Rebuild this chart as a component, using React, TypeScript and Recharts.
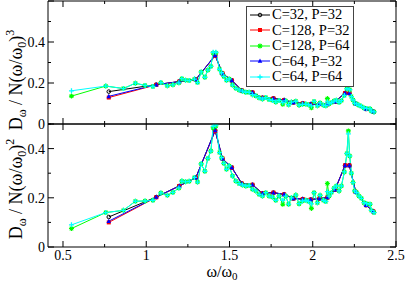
import React from 'react';
import { LineChart, Line, XAxis, YAxis, Legend } from 'recharts';

// frequencies of the coarse runs (P=32) and fine runs (P=64)
const coarseW = [0.775, 1.06, 1.198, 1.298, 1.414, 1.458, 1.514, 1.574, 1.638, 1.698, 1.764, 1.828, 1.884, 1.94, 1.988, 2.04, 2.088, 2.134, 2.194, 2.22, 2.258, 2.32, 2.363];
const fineW = [0.551, 0.757, 0.863, 0.935, 0.993, 1.04, 1.088, 1.127, 1.16, 1.196, 1.214, 1.236, 1.258, 1.29, 1.308, 1.33, 1.352, 1.37, 1.388, 1.402, 1.418, 1.44, 1.452, 1.466, 1.482, 1.498, 1.518, 1.538, 1.558, 1.578, 1.598, 1.618, 1.638, 1.658, 1.678, 1.698, 1.718, 1.738, 1.758, 1.778, 1.798, 1.82, 1.838, 1.855, 1.872, 1.898, 1.918, 1.938, 1.958, 1.975, 1.992, 2.008, 2.028, 2.044, 2.064, 2.078, 2.088, 2.098, 2.112, 2.128, 2.142, 2.158, 2.172, 2.19, 2.205, 2.214, 2.222, 2.232, 2.242, 2.252, 2.264, 2.278, 2.292, 2.308, 2.324, 2.344, 2.352, 2.368];

// top panel: D / N(w/w0)^3
const c32p32Cu = [0.158, 0.192, 0.207, 0.217, 0.335, 0.246, 0.213, 0.164, 0.154, 0.128, 0.125, 0.117, 0.105, 0.101, 0.097, 0.097, 0.096, 0.109, 0.151, 0.150, 0.099, 0.073, 0.061];
const c128p32Cu = [0.129, 0.191, 0.207, 0.217, 0.333, 0.247, 0.213, 0.164, 0.154, 0.128, 0.125, 0.117, 0.105, 0.101, 0.097, 0.097, 0.096, 0.109, 0.151, 0.150, 0.099, 0.073, 0.061];
const c64p32Cu = [0.135, 0.192, 0.207, 0.217, 0.335, 0.246, 0.213, 0.164, 0.154, 0.128, 0.125, 0.117, 0.105, 0.101, 0.097, 0.097, 0.096, 0.109, 0.151, 0.150, 0.099, 0.073, 0.061];
const c128p64Cu = [0.136, 0.185, 0.173, 0.199, 0.188, 0.183, 0.202, 0.186, 0.191, 0.201, 0.221, 0.214, 0.212, 0.219, 0.202, 0.254, 0.228, 0.263, 0.281, 0.346, 0.347, 0.267, 0.250, 0.232, 0.213, 0.220, 0.190, 0.174, 0.166, 0.160, 0.155, 0.155, 0.143, 0.138, 0.128, 0.122, 0.129, 0.119, 0.115, 0.107, 0.115, 0.096, 0.113, 0.094, 0.107, 0.111, 0.092, 0.096, 0.097, 0.094, 0.079, 0.110, 0.089, 0.103, 0.092, 0.089, 0.124, 0.099, 0.105, 0.112, 0.116, 0.106, 0.114, 0.139, 0.172, 0.200, 0.167, 0.134, 0.117, 0.101, 0.098, 0.091, 0.086, 0.078, 0.076, 0.074, 0.063, 0.059];
const c64p64Cu = [0.162, 0.185, 0.173, 0.199, 0.188, 0.183, 0.202, 0.186, 0.191, 0.201, 0.221, 0.214, 0.212, 0.219, 0.202, 0.254, 0.228, 0.263, 0.281, 0.350, 0.350, 0.267, 0.250, 0.232, 0.213, 0.220, 0.190, 0.174, 0.166, 0.160, 0.155, 0.155, 0.143, 0.138, 0.128, 0.122, 0.129, 0.119, 0.115, 0.107, 0.115, 0.104, 0.113, 0.094, 0.107, 0.111, 0.092, 0.096, 0.097, 0.094, 0.088, 0.110, 0.089, 0.103, 0.092, 0.089, 0.108, 0.099, 0.105, 0.112, 0.116, 0.106, 0.114, 0.139, 0.172, 0.192, 0.167, 0.134, 0.117, 0.101, 0.098, 0.091, 0.086, 0.078, 0.076, 0.074, 0.063, 0.059];

// bottom panel: D / N(w/w0)^2
const c32p32Sq = [0.122, 0.203, 0.248, 0.282, 0.474, 0.359, 0.323, 0.258, 0.253, 0.218, 0.221, 0.214, 0.197, 0.195, 0.193, 0.197, 0.201, 0.233, 0.332, 0.332, 0.224, 0.170, 0.145];
const c128p32Sq = [0.100, 0.202, 0.248, 0.282, 0.471, 0.360, 0.323, 0.258, 0.253, 0.218, 0.221, 0.214, 0.197, 0.195, 0.193, 0.197, 0.201, 0.233, 0.332, 0.332, 0.224, 0.170, 0.145];
const c64p32Sq = [0.105, 0.203, 0.248, 0.282, 0.474, 0.359, 0.323, 0.258, 0.253, 0.218, 0.221, 0.214, 0.197, 0.195, 0.193, 0.197, 0.201, 0.233, 0.332, 0.332, 0.224, 0.170, 0.145];
const c128p64Sq = [0.075, 0.140, 0.149, 0.186, 0.187, 0.190, 0.220, 0.210, 0.222, 0.240, 0.268, 0.265, 0.267, 0.283, 0.264, 0.338, 0.308, 0.360, 0.390, 0.485, 0.492, 0.384, 0.363, 0.340, 0.316, 0.330, 0.289, 0.268, 0.258, 0.252, 0.248, 0.250, 0.235, 0.228, 0.214, 0.207, 0.221, 0.207, 0.203, 0.190, 0.207, 0.174, 0.207, 0.174, 0.200, 0.211, 0.176, 0.187, 0.190, 0.185, 0.157, 0.221, 0.180, 0.210, 0.190, 0.185, 0.258, 0.207, 0.221, 0.239, 0.248, 0.228, 0.248, 0.305, 0.380, 0.472, 0.370, 0.300, 0.262, 0.228, 0.221, 0.207, 0.198, 0.180, 0.176, 0.174, 0.149, 0.140];
const c64p64Sq = [0.090, 0.140, 0.149, 0.186, 0.187, 0.190, 0.220, 0.210, 0.222, 0.240, 0.268, 0.265, 0.267, 0.283, 0.264, 0.338, 0.308, 0.360, 0.390, 0.490, 0.496, 0.384, 0.363, 0.340, 0.316, 0.330, 0.289, 0.268, 0.258, 0.252, 0.248, 0.250, 0.235, 0.228, 0.214, 0.207, 0.221, 0.207, 0.203, 0.190, 0.207, 0.190, 0.207, 0.174, 0.200, 0.211, 0.176, 0.187, 0.190, 0.185, 0.175, 0.221, 0.180, 0.210, 0.190, 0.185, 0.225, 0.207, 0.221, 0.239, 0.248, 0.228, 0.248, 0.305, 0.380, 0.460, 0.370, 0.300, 0.262, 0.228, 0.221, 0.207, 0.198, 0.180, 0.176, 0.174, 0.149, 0.140];

const xTicks = [0.5, 0.75, 1, 1.25, 1.5, 1.75, 2, 2.25, 2.5];
const yTicksTop = [0, 0.1, 0.2, 0.3, 0.4, 0.5, 0.6];
const yTicksBot = [0, 0.1, 0.2, 0.3, 0.4, 0.5];

const FONT = "'Liberation Serif', serif";

const pts = (w: number[], v: number[]) => w.map((x, i) => ({ w: x, v: v[i] }));

const series = [
  { name: 'C=32, P=32', color: '#000000', shape: 'circle', w: coarseW, cu: c32p32Cu, sq: c32p32Sq },
  { name: 'C=128, P=32', color: '#ff0000', shape: 'square', w: coarseW, cu: c128p32Cu, sq: c128p32Sq },
  { name: 'C=128, P=64', color: '#00ff00', shape: 'star', w: fineW, cu: c128p64Cu, sq: c128p64Sq },
  { name: 'C=64, P=32', color: '#0000ff', shape: 'triangle', w: coarseW, cu: c64p32Cu, sq: c64p32Sq },
  { name: 'C=64, P=64', color: '#00ffff', shape: 'plus', w: fineW, cu: c64p64Cu, sq: c64p64Sq },
];

function Marker({ shape, cx, cy, color }: { shape: string; cx: number; cy: number; color: string }) {
  if (shape === 'circle') return <circle cx={cx} cy={cy} r={1.8} fill="none" stroke={color} strokeWidth={1} />;
  if (shape === 'square') return <rect x={cx - 2} y={cy - 2} width={4} height={4} fill={color} />;
  if (shape === 'triangle') return <polygon points={`${cx},${cy - 2.5} ${cx + 2.3},${cy + 1.8} ${cx - 2.3},${cy + 1.8}`} fill={color} />;
  if (shape === 'star')
    return (
      <path d={`M${cx - 2.5},${cy}H${cx + 2.5}M${cx},${cy - 2.5}V${cy + 2.5}M${cx - 1.8},${cy - 1.8}L${cx + 1.8},${cy + 1.8}M${cx - 1.8},${cy + 1.8}L${cx + 1.8},${cy - 1.8}`} stroke={color} strokeWidth={1.1} />
    );
  return <path d={`M${cx - 2.5},${cy}H${cx + 2.5}M${cx},${cy - 2.5}V${cy + 2.5}`} stroke={color} strokeWidth={1.3} />;
}

const near = (v: number, step: number) => Math.abs(v / step - Math.round(v / step)) < 1e-6;

const xTick = (dir: number, labels: boolean) => (p: any) => {
  const major = near(p.payload.value, 0.5);
  return (
    <g>
      <line x1={p.x} y1={p.y} x2={p.x} y2={p.y + dir * (major ? 6 : 3)} stroke="#000" />
      {labels && major && (
        <text x={p.x} y={p.y + 13} textAnchor="middle" fontSize={14} fontFamily={FONT} fill="#000">
          {p.payload.value}
        </text>
      )}
    </g>
  );
};

const yTick = (dir: number, labels: boolean, max: number) => (p: any) => {
  const v = p.payload.value;
  const major = near(v, 0.2);
  return (
    <g>
      <line x1={p.x} y1={p.y} x2={p.x + dir * (major ? 6 : 3)} y2={p.y} stroke="#000" />
      {labels && major && v < max && (
        <text x={p.x - 3} y={p.y} dy="0.35em" textAnchor="end" fontSize={14} fontFamily={FONT} fill="#000">
          {v}
        </text>
      )}
    </g>
  );
};

const yTitle = (cy: number, pow: string) => () => (
  <text transform={`translate(22,${cy}) rotate(-90)`} textAnchor="middle" fontSize={18} fontFamily={FONT} fill="#000">
    D<tspan fontSize={12} dy={4}>ω</tspan>
    <tspan dy={-4}> / N(ω/ω</tspan>
    <tspan fontSize={12} dy={4}>0</tspan>
    <tspan dy={-4}>)</tspan>
    <tspan fontSize={12} dy={-8}>{pow}</tspan>
  </text>
);

const xTitle = () => (
  <text x={222} y={277} textAnchor="middle" fontSize={16} fontFamily={FONT} fill="#000">
    ω/ω<tspan fontSize={11} dy={3}>0</tspan>
  </text>
);

// drawn in series order, not the legend's sorted payload order
const renderLegend = () => (
  <div style={{ border: '1px solid #444', background: '#fff', width: 106, padding: '0 0 1px 0', fontFamily: FONT, fontSize: 14.5, color: '#000' }}>
    {series.map((s) => (
      <div key={s.name} style={{ display: 'flex', alignItems: 'center', height: 15.5, lineHeight: '15.5px' }}>
        <svg width={25} height={10} style={{ flex: 'none' }}>
          <line x1={3} y1={5} x2={23} y2={5} stroke={s.color} strokeWidth={1} />
          <Marker shape={s.shape} cx={13} cy={5} color={s.color} />
        </svg>
        <span style={{ whiteSpace: 'nowrap' }}>{s.name}</span>
      </div>
    ))}
  </div>
);

const axisLine = { stroke: '#000', strokeWidth: 1 };

function Panel({ height, margin, yMax, yTicks, pow, titleY, bottomLabels, legend }: any) {
  return (
    <div style={{ position: 'absolute', left: 0, top: 0 }}>
      <LineChart width={407} height={height} margin={margin}>
        <XAxis xAxisId="b" dataKey="w" type="number" domain={[0.41, 2.5]} ticks={xTicks} interval={0} height={1} tickSize={0} tickMargin={0} tickLine={false} axisLine={axisLine} tick={xTick(-1, bottomLabels)} allowDataOverflow label={bottomLabels ? { content: xTitle } : undefined} />
        <XAxis xAxisId="t" orientation="top" dataKey="w" type="number" domain={[0.41, 2.5]} ticks={xTicks} interval={0} height={1} tickSize={0} tickMargin={0} tickLine={false} axisLine={axisLine} tick={xTick(1, false)} allowDataOverflow />
        <YAxis yAxisId="l" type="number" domain={[0, yMax]} ticks={yTicks} interval={0} width={1} tickSize={0} tickMargin={0} tickLine={false} axisLine={axisLine} tick={yTick(1, true, yMax)} allowDataOverflow label={{ content: yTitle(titleY, pow) }} />
        <YAxis yAxisId="r" orientation="right" type="number" domain={[0, yMax]} ticks={yTicks} interval={0} width={1} tickSize={0} tickMargin={0} tickLine={false} axisLine={axisLine} tick={yTick(-1, false, yMax)} allowDataOverflow />
        {legend && <Legend layout="horizontal" verticalAlign="middle" align="center" content={renderLegend} wrapperStyle={{ left: 246, top: 6, width: 108 }} />}
        {series.map((s) => (
          <Line
            key={s.name}
            xAxisId="b"
            yAxisId="l"
            name={s.name}
            data={pts(s.w, pow === '3' ? s.cu : s.sq)}
            dataKey="v"
            stroke={s.color}
            strokeWidth={1}
            isAnimationActive={false}
            dot={(d: any) => <Marker key={d.index} shape={s.shape} cx={d.cx} cy={d.cy} color={s.color} />}
            activeDot={false}
          />
        ))}
      </LineChart>
    </div>
  );
}

export default function App() {
  return (
    <div style={{ position: 'absolute', left: 0, top: 0, width: 407, height: 281, background: '#fff' }}>
      <Panel height={281} margin={{ top: 123, right: 10, bottom: 33, left: 47 }} yMax={0.5} yTicks={yTicksBot} pow="2" titleY={189} bottomLabels />
      <Panel height={140} margin={{ top: 0, right: 10, bottom: 15, left: 47 }} yMax={0.6} yTicks={yTicksTop} pow="3" titleY={80} bottomLabels={false} legend />
    </div>
  );
}
